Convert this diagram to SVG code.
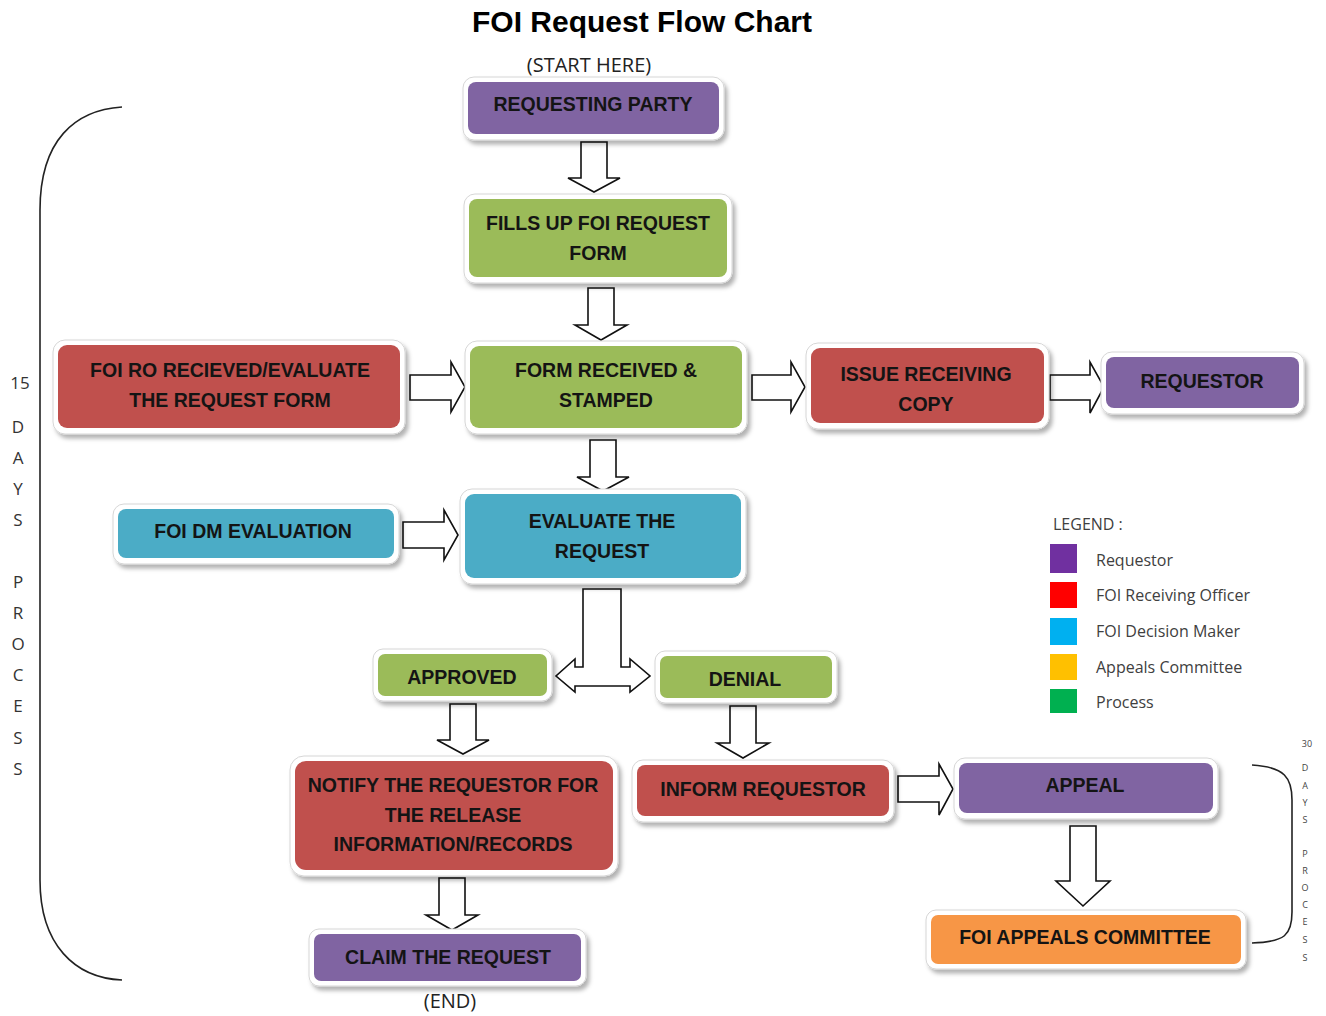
<svg xmlns="http://www.w3.org/2000/svg" width="1326" height="1016" viewBox="0 0 1326 1016">
<defs>
<filter id="sh" x="-10%" y="-20%" width="120%" height="150%">
<feDropShadow dx="3" dy="4" stdDeviation="2" flood-color="#000" flood-opacity="0.3"/>
</filter>
<style>
.frame{fill:#fff;stroke:#d6d6d6;stroke-width:1;filter:url(#sh)}
.p{fill:#8064A2}.g{fill:#9BBB59}.r{fill:#C0504D}.b{fill:#4BACC6}.o{fill:#F79646}
.t{font-family:"Liberation Sans",Arial,sans-serif;font-weight:bold;font-size:19.5px;fill:#141414;text-anchor:middle}
.arr{fill:#fff;stroke:#111;stroke-width:1.6;stroke-linejoin:miter}
.lg{font-family:"Open Sans","Liberation Sans",sans-serif;font-size:16px;fill:#404040}
.side{font-family:"Open Sans","Liberation Sans",sans-serif;font-size:17px;fill:#333;text-anchor:middle}
.side2{font-family:"Open Sans","Liberation Sans",sans-serif;font-size:9px;fill:#444;text-anchor:middle}
.br{fill:none;stroke:#222;stroke-width:1.6}
</style>
</defs>
<rect width="1326" height="1016" fill="#fff"/>
<text x="642" y="32" font-family="Liberation Sans,Arial,sans-serif" font-weight="bold" font-size="30" text-anchor="middle" fill="#000">FOI Request Flow Chart</text>
<text x="589" y="72" font-family="Open Sans,Liberation Sans,sans-serif" font-size="20" text-anchor="middle" fill="#222">(START HERE)</text>
<text x="450" y="1008" font-family="Open Sans,Liberation Sans,sans-serif" font-size="20" text-anchor="middle" fill="#222">(END)</text>

<g id="brackets">
<path class="br" d="M122,107 C75,110 40,140 40,210 L40,880 C40,945 75,978 122,980"/>
<path class="br" d="M1252,765 C1285,767 1292,778 1292,800 L1292,912 C1292,935 1285,942 1252,943"/>
<text class="side" x="20" y="389">15</text>
<text class="side" x="18" y="433">D</text>
<text class="side" x="18" y="464">A</text>
<text class="side" x="18" y="495">Y</text>
<text class="side" x="18" y="526">S</text>
<text class="side" x="18" y="588">P</text>
<text class="side" x="18" y="619">R</text>
<text class="side" x="18" y="650">O</text>
<text class="side" x="18" y="681">C</text>
<text class="side" x="18" y="712">E</text>
<text class="side" x="18" y="744">S</text>
<text class="side" x="18" y="775">S</text>
<text class="side2" x="1307" y="747">30</text>
<text class="side2" x="1305" y="771">D</text>
<text class="side2" x="1305" y="789">A</text>
<text class="side2" x="1305" y="806">Y</text>
<text class="side2" x="1305" y="823">S</text>
<text class="side2" x="1305" y="857">P</text>
<text class="side2" x="1305" y="874">R</text>
<text class="side2" x="1305" y="891">O</text>
<text class="side2" x="1305" y="908">C</text>
<text class="side2" x="1305" y="925">E</text>
<text class="side2" x="1305" y="943">S</text>
<text class="side2" x="1305" y="961">S</text>
</g>

<g id="legend">
<text class="lg" x="1053" y="530" font-size="14.5">LEGEND :</text>
<rect x="1050" y="544" width="27" height="29" fill="#7030A0"/>
<rect x="1050" y="582" width="27" height="26" fill="#FF0000"/>
<rect x="1050" y="618" width="27" height="27" fill="#00B0F0"/>
<rect x="1050" y="654" width="27" height="26" fill="#FFC000"/>
<rect x="1050" y="689" width="27" height="24" fill="#00B050"/>
<text class="lg" x="1096" y="566">Requestor</text>
<text class="lg" x="1096" y="601">FOI Receiving Officer</text>
<text class="lg" x="1096" y="637">FOI Decision Maker</text>
<text class="lg" x="1096" y="673">Appeals Committee</text>
<text class="lg" x="1096" y="708">Process</text>
</g>

<g id="connectors">
<polygon class="arr" points="581,142 607,142 607,178 620,178 594,192 568,178 581,178"/>
<polygon class="arr" points="588,288 614,288 614,325 627,325 601,340 575,325 588,325"/>
<polygon class="arr" points="410,375 451,375 451,362 465,387 451,412 451,400 410,400"/>
<polygon class="arr" points="752,375 791,375 791,362 805,387 791,412 791,400 752,400"/>
<polygon class="arr" points="1050,375 1090,375 1090,362 1104,387 1090,413 1090,400 1050,400"/>
<polygon class="arr" points="590,440 616,440 616,477 629,477 603,491 577,477 590,477"/>
<polygon class="arr" points="403,522 444,522 444,510 458,535 444,560 444,548 403,548"/>
<polygon class="arr" points="583,589 621,589 621,667 630,667 630,659 650,676 630,692 630,686 575,686 575,692 556,676 575,659 575,667 583,667"/>
<polygon class="arr" points="450,704 476,704 476,740 489,740 463,754 437,740 450,740"/>
<polygon class="arr" points="730,706 756,706 756,743 769,743 743,758 717,743 730,743"/>
<polygon class="arr" points="439,878 465,878 465,915 478,915 452,930 426,915 439,915"/>
<polygon class="arr" points="898,776 939,776 939,764 953,789 939,815 939,802 898,802"/>
<polygon class="arr" points="1070,826 1096,826 1096,881 1110,881 1083,906 1056,881 1070,881"/>
</g>

<g id="n-requesting-party">
<rect class="frame" x="463" y="77" width="261" height="63" rx="11"/>
<rect class="p" x="468" y="82" width="251" height="52" rx="8"/>
<text class="t" x="593" y="111">REQUESTING PARTY</text>
</g>
<g id="n-fills-up">
<rect class="frame" x="464" y="194" width="268" height="89" rx="11"/>
<rect class="g" x="469" y="199" width="258" height="78" rx="8"/>
<text class="t" x="598" y="230">FILLS UP FOI REQUEST</text>
<text class="t" x="598" y="260">FORM</text>
</g>
<g id="n-foi-ro">
<rect class="frame" x="53" y="340" width="352" height="94" rx="12"/>
<rect class="r" x="58" y="345" width="342" height="83" rx="9"/>
<text class="t" x="230" y="377">FOI RO RECIEVED/EVALUATE</text>
<text class="t" x="230" y="407">THE REQUEST FORM</text>
</g>
<g id="n-form-received">
<rect class="frame" x="465" y="341" width="282" height="93" rx="12"/>
<rect class="g" x="470" y="346" width="272" height="82" rx="9"/>
<text class="t" x="606" y="377">FORM RECEIVED &amp;</text>
<text class="t" x="606" y="407">STAMPED</text>
</g>
<g id="n-issue">
<rect class="frame" x="806" y="343" width="243" height="86" rx="12"/>
<rect class="r" x="811" y="348" width="233" height="75" rx="9"/>
<text class="t" x="926" y="381">ISSUE RECEIVING</text>
<text class="t" x="926" y="411">COPY</text>
</g>
<g id="n-requestor">
<rect class="frame" x="1101" y="352" width="203" height="62" rx="11"/>
<rect class="p" x="1106" y="357" width="193" height="51" rx="8"/>
<text class="t" x="1202" y="388">REQUESTOR</text>
</g>
<g id="n-foi-dm">
<rect class="frame" x="113" y="504" width="286" height="60" rx="11"/>
<rect class="b" x="118" y="509" width="276" height="49" rx="8"/>
<text class="t" x="253" y="538">FOI DM EVALUATION</text>
</g>
<g id="n-evaluate">
<rect class="frame" x="460" y="489" width="286" height="95" rx="12"/>
<rect class="b" x="465" y="494" width="276" height="84" rx="9"/>
<text class="t" x="602" y="528">EVALUATE THE</text>
<text class="t" x="602" y="558">REQUEST</text>
</g>
<g id="n-approved">
<rect class="frame" x="373" y="649" width="179" height="52" rx="10"/>
<rect class="g" x="378" y="654" width="169" height="42" rx="7"/>
<text class="t" x="462" y="684">APPROVED</text>
</g>
<g id="n-denial">
<rect class="frame" x="655" y="651" width="182" height="52" rx="10"/>
<rect class="g" x="660" y="656" width="172" height="42" rx="7"/>
<text class="t" x="745" y="686">DENIAL</text>
</g>
<g id="n-notify">
<rect class="frame" x="290" y="756" width="328" height="120" rx="14"/>
<rect class="r" x="295" y="761" width="318" height="109" rx="11"/>
<text class="t" x="453" y="792">NOTIFY THE REQUESTOR FOR</text>
<text class="t" x="453" y="822">THE RELEASE</text>
<text class="t" x="453" y="851">INFORMATION/RECORDS</text>
</g>
<g id="n-inform">
<rect class="frame" x="632" y="760" width="262" height="62" rx="11"/>
<rect class="r" x="637" y="765" width="252" height="51" rx="8"/>
<text class="t" x="763" y="796">INFORM REQUESTOR</text>
</g>
<g id="n-appeal">
<rect class="frame" x="954" y="758" width="264" height="61" rx="11"/>
<rect class="p" x="959" y="763" width="254" height="50" rx="8"/>
<text class="t" x="1085" y="792">APPEAL</text>
</g>
<g id="n-claim">
<rect class="frame" x="309" y="929" width="277" height="57" rx="10"/>
<rect class="p" x="314" y="934" width="267" height="47" rx="7"/>
<text class="t" x="448" y="964">CLAIM THE REQUEST</text>
</g>
<g id="n-appeals-committee">
<rect class="frame" x="926" y="910" width="320" height="59" rx="10"/>
<rect class="o" x="931" y="915" width="310" height="49" rx="7"/>
<text class="t" x="1085" y="944">FOI APPEALS COMMITTEE</text>
</g>
</svg>
